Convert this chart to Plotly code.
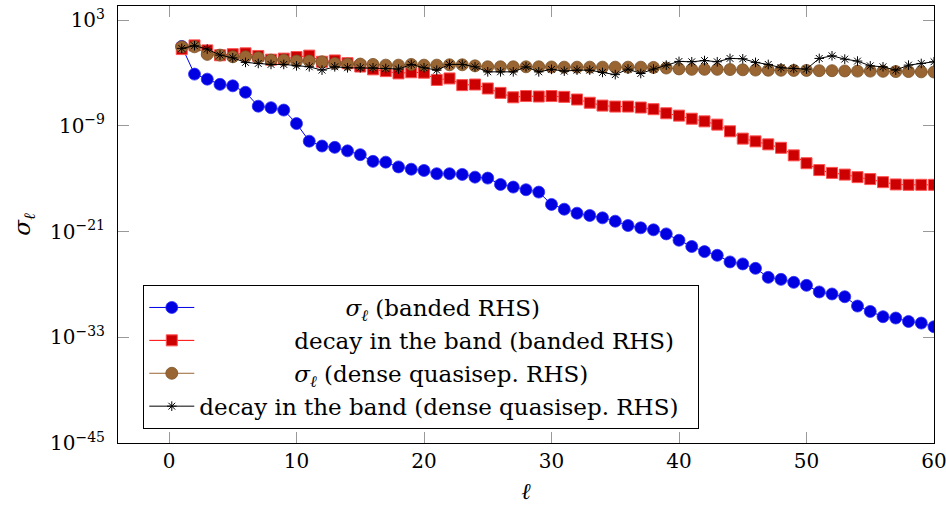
import plotly.graph_objects as go

# ell index
ell = list(range(1, 61))

# log10 of values
sigma_banded_log = [0.0, -3.14, -3.71, -4.3, -4.47, -5.2, -6.78, -6.95, -7.22, -8.75,
                    -10.75, -11.3, -11.45, -11.85, -12.28, -13.04, -13.13, -13.67, -13.93, -14.07,
                    -14.44, -14.44, -14.52, -14.83, -14.94, -15.66, -15.96, -16.26, -16.53, -17.93,
                    -18.47, -18.92, -19.18, -19.45, -19.83, -20.32, -20.58, -20.81, -21.27, -21.99,
                    -22.7, -23.28, -23.7, -24.45, -24.68, -25.18, -26.2, -26.43, -26.77, -27.11,
                    -27.86, -28.09, -28.4, -29.46, -30.07, -30.67, -30.82, -31.21, -31.39, -31.81]

decay_banded_log = [-0.3, 0.12, -0.45, -1.0, -0.88, -0.78, -1.08, -1.5, -1.38, -1.2,
                    -1.04, -1.74, -1.59, -1.9, -2.28, -2.6, -2.8, -3.06, -2.93, -2.98,
                    -3.8, -3.63, -4.39, -4.32, -4.77, -5.27, -5.77, -5.63, -5.68, -5.63,
                    -5.72, -6.02, -6.39, -6.71, -6.82, -6.82, -6.93, -7.12, -7.58, -7.85,
                    -8.2, -8.5, -8.87, -9.63, -10.46, -10.77, -11.11, -11.5, -12.36, -13.25,
                    -14.03, -14.35, -14.54, -14.83, -15.05, -15.4, -15.66, -15.7, -15.7, -15.7]

sigma_dense_log = [-0.04, -0.04, -0.9, -0.98, -1.17, -1.17, -1.29, -1.55, -1.55, -1.66,
                   -1.66, -1.74, -1.93, -2.0, -2.0, -2.04, -2.12, -2.12, -2.04, -2.12,
                   -2.12, -2.08, -2.08, -2.2, -2.31, -2.31, -2.31, -2.31, -2.31, -2.33,
                   -2.35, -2.35, -2.35, -2.35, -2.35, -2.35, -2.35, -2.38, -2.45, -2.55,
                   -2.6, -2.6, -2.6, -2.62, -2.65, -2.68, -2.7, -2.7, -2.72, -2.72,
                   -2.75, -2.75, -2.78, -2.8, -2.8, -2.82, -2.85, -2.85, -2.88, -2.9]

decay_dense_log = [-0.22, 0.08, -0.3, -0.98, -1.29, -1.81, -1.93, -2.04, -2.04, -2.2,
                   -2.31, -2.69, -2.31, -2.42, -2.42, -2.42, -2.5, -2.57, -2.04, -2.42,
                   -2.69, -2.04, -2.04, -2.31, -2.88, -2.88, -2.88, -2.31, -2.88, -2.6,
                   -2.8, -2.69, -2.69, -2.95, -3.2, -2.57, -3.07, -2.57, -2.12, -1.7,
                   -1.74, -1.6, -1.74, -1.36, -1.4, -1.81, -2.04, -2.42, -2.5, -2.57,
                   -1.36, -1.06, -1.44, -1.66, -2.2, -2.31, -2.69, -2.12, -1.93, -1.74]

names = ["<i>σ</i><sub><i>ℓ</i></sub> (banded RHS)",
         "decay in the band (banded RHS)",
         "<i>σ</i><sub><i>ℓ</i></sub> (dense quasisep. RHS)",
         "decay in the band (dense quasisep. RHS)"]
# leading / trailing non-breaking spaces to centre the legend entries like the reference
name_pads = [20, 13, 13, 0]
name_tail = [0, 0, 0, 2]

ytick_exps = [3, -9, -21, -33, -45]
ytick_text = ["10<sup>3</sup>", "10<sup>−9</sup>", "10<sup>−21</sup>", "10<sup>−33</sup>", "10<sup>−45</sup>"]
xtick_vals = [0, 10, 20, 30, 40, 50, 60]

FONT = "DejaVu Serif"

def vals(lst):
    return [10 ** v for v in lst]

def label(i):
    return "\u00a0" * name_pads[i] + names[i] + "\u00a0" * name_tail[i]

fig = go.Figure()
fig.add_trace(go.Scatter(
    x=ell, y=vals(sigma_banded_log), mode="lines+markers", name=label(0),
    legendgroup="a",
    line=dict(color="#0000E6", width=1),
    marker=dict(symbol="circle", size=12, color="#0000E0", line=dict(color="#3030FF", width=0.8))))
fig.add_trace(go.Scatter(
    x=ell, y=vals(decay_banded_log), mode="lines+markers", name=label(1),
    legendgroup="b",
    line=dict(color="#FF0000", width=1),
    marker=dict(symbol="square", size=11, color="#CC0000", line=dict(color="#FF5050", width=1))))
fig.add_trace(go.Scatter(
    x=ell, y=vals(sigma_dense_log), mode="lines+markers", name=label(2),
    legendgroup="c",
    line=dict(color="#996633", width=1),
    marker=dict(symbol="circle", size=12, color="#996633", line=dict(color="#7A5026", width=0.8))))
fig.add_trace(go.Scatter(
    x=ell, y=vals(decay_dense_log), mode="lines+markers", name=label(3),
    legendgroup="d",
    line=dict(color="black", width=1),
    marker=dict(symbol="asterisk-open", size=8, color="black", line=dict(color="black", width=1))))

fig.update_layout(
    width=946, height=510,
    margin=dict(l=118, r=12, t=6, b=67, autoexpand=False),
    paper_bgcolor="white", plot_bgcolor="white",
    font=dict(family=FONT, size=20, color="black"),
    showlegend=True,
    legend=dict(x=0.031, y=0.032, xanchor="left", yanchor="bottom",
                bgcolor="white", bordercolor="black", borderwidth=1,
                font=dict(family=FONT, size=23), itemwidth=45,
                tracegroupgap=4, traceorder="normal"),
    xaxis=dict(range=[-4, 60], tickvals=xtick_vals, ticks="inside", ticklen=11,
               tickcolor="#999", showline=True, linecolor="black", linewidth=1,
               mirror="allticks", showgrid=False, zeroline=False,
               ticklabeloverflow="allow", automargin=False,
               title=dict(text="<i>ℓ</i>", font=dict(size=23, family=FONT), standoff=10)),
    yaxis=dict(type="log", range=[-45, 4.59], tickvals=[10 ** e for e in ytick_exps],
               ticktext=ytick_text, ticks="inside", ticklen=11, tickcolor="#999",
               showline=True, linecolor="black", linewidth=1, mirror="allticks",
               showgrid=False, zeroline=False, ticklabelstandoff=8,
               ticklabeloverflow="allow", automargin=False,
               title=dict(text="<i>σ</i><sub><i>ℓ</i></sub>", font=dict(size=23, family=FONT), standoff=12)),
)

fig.write_html("out.html")
